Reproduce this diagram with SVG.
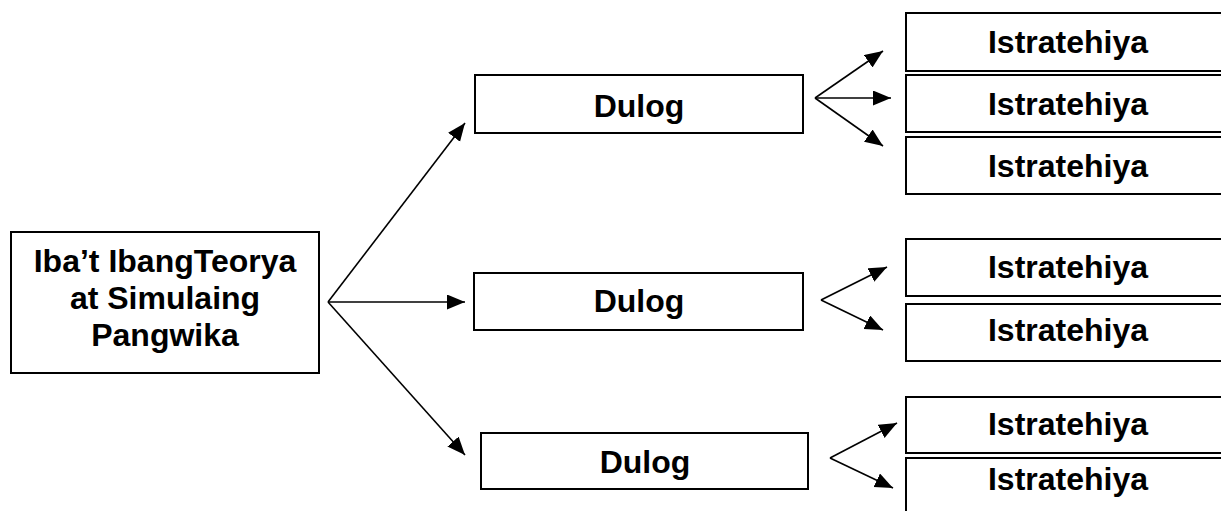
<svg xmlns="http://www.w3.org/2000/svg" width="1221" height="511" viewBox="0 0 1221 511">
<style>
.box{fill:#fff;stroke:#000;stroke-width:2}
.t{font-family:"Liberation Sans",Arial,sans-serif;font-weight:bold;font-size:32px;fill:#000;text-anchor:middle}
.c{stroke:#000;stroke-width:1.6;fill:none;marker-end:url(#ah)}
</style>
<defs>
<marker id="ah" markerUnits="userSpaceOnUse" markerWidth="20" markerHeight="16" refX="18" refY="7.5" orient="auto">
<path d="M0,0 L18,7.5 L0,15 z" fill="#000"/>
</marker>
</defs>
<rect width="1221" height="511" fill="#fff"/>
<g id="root">
<rect class="box" x="11" y="232" width="308" height="141"/>
<text class="t" x="165" y="272">Iba’t IbangTeorya</text>
<text class="t" x="165" y="309">at Simulaing</text>
<text class="t" x="165" y="346">Pangwika</text>
</g>
<g id="dulog1"><rect class="box" x="475" y="75" width="328" height="58"/><text class="t" x="639" y="117">Dulog</text></g>
<g id="dulog2"><rect class="box" x="474" y="273" width="329" height="57"/><text class="t" x="639" y="312">Dulog</text></g>
<g id="dulog3"><rect class="box" x="481" y="433" width="327" height="56"/><text class="t" x="645" y="473">Dulog</text></g>
<g id="s1"><rect class="box" x="906" y="13" width="330" height="58"/><text class="t" x="1068" y="53">Istratehiya</text></g>
<g id="s2"><rect class="box" x="906" y="75" width="330" height="57"/><text class="t" x="1068" y="115">Istratehiya</text></g>
<g id="s3"><rect class="box" x="906" y="137" width="330" height="57"/><text class="t" x="1068" y="177">Istratehiya</text></g>
<g id="s4"><rect class="box" x="906" y="239" width="330" height="57"/><text class="t" x="1068" y="278">Istratehiya</text></g>
<g id="s5"><rect class="box" x="906" y="304" width="330" height="57"/><text class="t" x="1068" y="341">Istratehiya</text></g>
<g id="s6"><rect class="box" x="906" y="397" width="330" height="56"/><text class="t" x="1068" y="435">Istratehiya</text></g>
<g id="s7"><rect class="box" x="906" y="458" width="330" height="70"/><text class="t" x="1068" y="490">Istratehiya</text></g>
<g id="connectors">
<line class="c" x1="328" y1="302" x2="465" y2="123"/>
<line class="c" x1="328" y1="302" x2="465" y2="302"/>
<line class="c" x1="328" y1="302" x2="465" y2="455"/>
<line class="c" x1="815" y1="98" x2="883" y2="51"/>
<line class="c" x1="815" y1="98" x2="891" y2="98"/>
<line class="c" x1="815" y1="98" x2="883" y2="146"/>
<line class="c" x1="821" y1="300" x2="887" y2="267"/>
<line class="c" x1="821" y1="300" x2="883" y2="330"/>
<line class="c" x1="830" y1="458" x2="897" y2="423"/>
<line class="c" x1="830" y1="458" x2="893" y2="488"/>
</g>
</svg>
